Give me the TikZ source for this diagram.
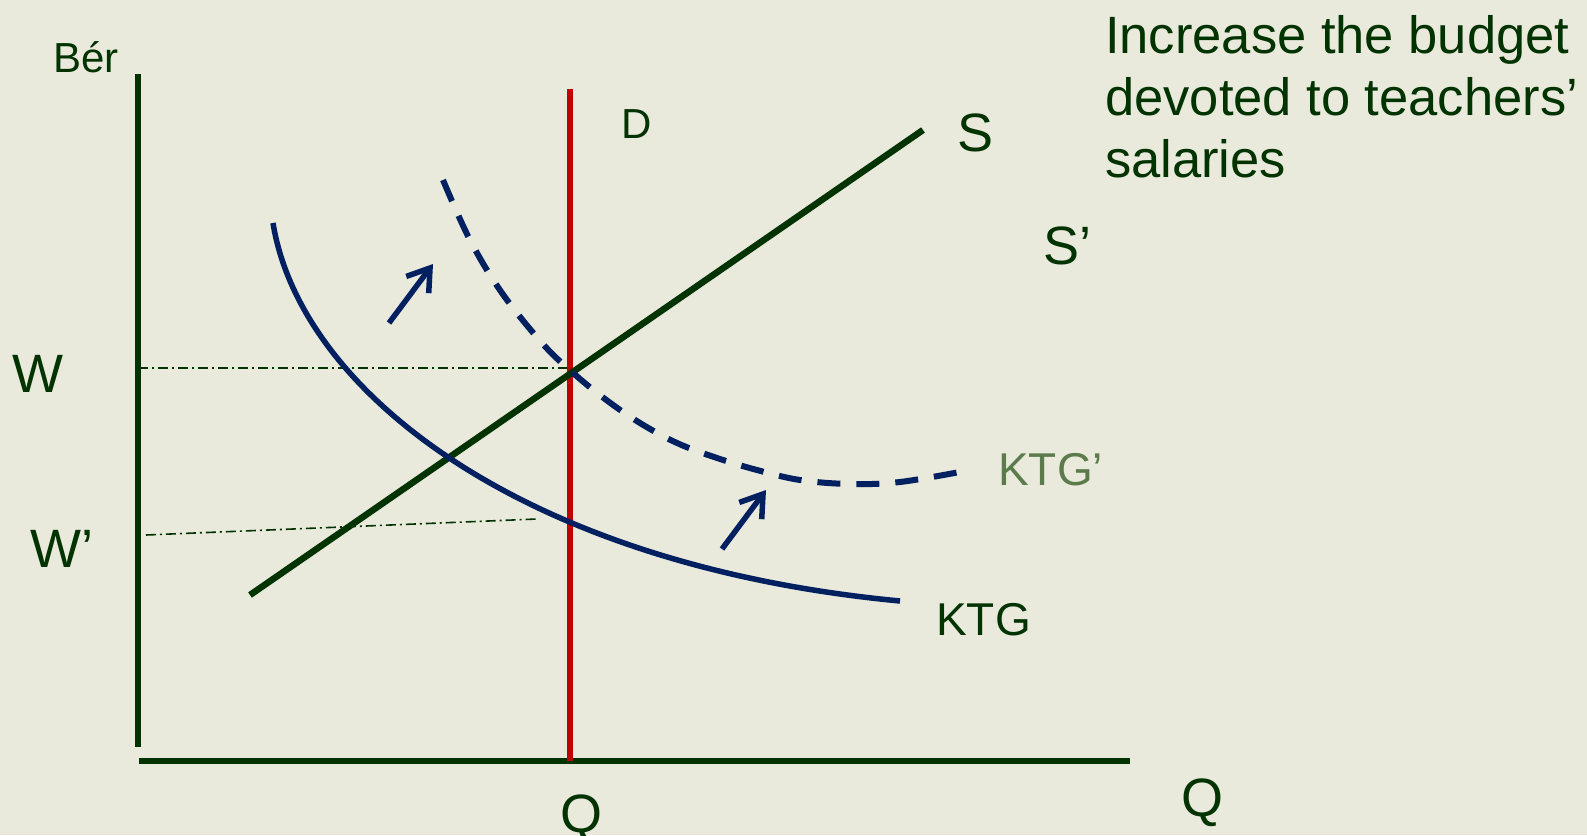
\documentclass[tikz,border=0pt]{standalone}
\usepackage{fontspec}
\setmainfont{Liberation Sans}
\usetikzlibrary{arrows.meta}
\definecolor{bg}{HTML}{E9E9DC}
\definecolor{dgreen}{HTML}{003300}
\definecolor{navy}{HTML}{002060}
\definecolor{dred}{HTML}{C00000}
\definecolor{lgreen}{HTML}{5B7B4B}
\tikzset{
  lab/.style={anchor=base west, inner sep=0pt, text=dgreen, font=\fontsize{54}{60}\selectfont},
  smalllab/.style={lab, font=\fontsize{42}{48}\selectfont},
  midlab/.style={lab, font=\fontsize{46}{52}\selectfont},
  axisline/.style={draw=dgreen, line width=6pt},
  guide/.style={draw=dgreen, line width=1.6pt, dash pattern=on 10pt off 4pt on 2pt off 4pt},
  curve/.style={draw=navy, line width=5.5pt},
  dcurve/.style={draw=navy, line width=6pt, dash pattern=on 23pt off 16pt},
  shiftarrow/.style={draw=navy, line width=5.5pt, -{Straight Barb[length=21pt,width=28pt,line width=5.5pt]}}
}
\begin{document}
\begin{tikzpicture}[x=1pt,y=-1pt]
\fill[bg] (0,0) rectangle (1587,835);
\useasboundingbox (0,0) rectangle (1587,835);
% axes
\coordinate (ytop) at (138,74);
\coordinate (ybot) at (138,747);
\coordinate (xl) at (139,761);
\coordinate (xr) at (1130,761);
\draw[axisline] (ytop) -- (ybot);
\draw[axisline] (xl) -- (xr);
% guides
\coordinate (wa) at (138,368);
\coordinate (wb) at (570,368);
\coordinate (wpa) at (146,535);
\coordinate (wpb) at (537,519);
\draw[guide] (wa) -- (wb);
\draw[guide] (wpa) -- (wpb);
% D line
\coordinate (dtop) at (570,89);
\coordinate (dbot) at (570,761);
\draw[draw=dred, line width=6.5pt] (dtop) -- (dbot);
% S line
\coordinate (sa) at (250,595);
\coordinate (sb) at (923,130);
\draw[draw=dgreen, line width=6.5pt] (sa) -- (sb);
% KTG
\coordinate (ka) at (273,223);
\coordinate (kb) at (900,601);
\draw[curve] (ka) .. controls (300,390) and (520,565) .. (kb);
% KTG'
\draw[dcurve] plot[smooth, tension=0.6] coordinates {(443,180) (470,240) (502,293) (542,343) (572,372) (605,399) (640,423) (677,443) (717,458) (757,470) (800,480) (850,484) (900,482) (965,471)};
% shift arrows
\coordinate (a1s) at (389,323);
\coordinate (a1e) at (433,264);
\coordinate (a2s) at (722,549);
\coordinate (a2e) at (766,490);
\draw[shiftarrow] (a1s) -- (a1e);
\draw[shiftarrow] (a2s) -- (a2e);
% labels
\node[smalllab] (ber) at (53,72) {Bér};
\node[smalllab] (dlab) at (621,138) {D};
\node[lab] (wlab) at (12,392) {W};
\node[lab] (wplab) at (30,567) {W’};
\node[lab] (slab) at (957,151) {S};
\node[lab] (splab) at (1043,264) {S’};
\node[midlab] (ktg) at (936,635) {KTG};
\node[midlab, text=lgreen] (ktgp) at (998,485) {KTG’};
\node[lab] (q1) at (560,832) {Q};
\node[lab] (q2) at (1181,816) {Q};
\node[anchor=north west, inner sep=0pt, text=dgreen, align=left, font=\fontsize{52.5}{62}\selectfont] (txt) at (1105,15) {Increase the budget\\devoted to teachers’\\salaries};
\end{tikzpicture}
\end{document}
